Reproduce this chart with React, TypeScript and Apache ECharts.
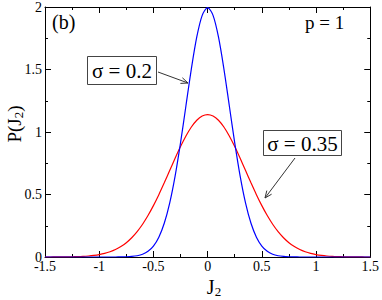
import React, { useEffect, useRef } from "react";
import * as echarts from "echarts";

const xs = [
  -1.5, -1.45, -1.4, -1.35, -1.3, -1.25, -1.2, -1.15, -1.1, -1.05, -1.0, -0.95,
  -0.9, -0.85, -0.8, -0.75, -0.7, -0.65, -0.6, -0.55, -0.5, -0.45, -0.4, -0.35,
  -0.3, -0.25, -0.2, -0.15, -0.1, -0.05, 0, 0.05, 0.1, 0.15, 0.2, 0.25, 0.3,
  0.35, 0.4, 0.45, 0.5, 0.55, 0.6, 0.65, 0.7, 0.75, 0.8, 0.85, 0.9, 0.95, 1.0,
  1.05, 1.1, 1.15, 1.2, 1.25, 1.3, 1.35, 1.4, 1.45, 1.5,
];

const blueVals = [
  0, 0, 0, 0, 0, 0, 0, 0, 0, 0, 0, 0,
  0.0001, 0.0002, 0.0007, 0.0018, 0.0044, 0.0101, 0.0222, 0.0455, 0.0876,
  0.1587, 0.27, 0.4314, 0.6476, 0.9132, 1.2099, 1.5057, 1.7603, 1.9333,
  1.9947,
  1.9333, 1.7603, 1.5057, 1.2099, 0.9132, 0.6476, 0.4314, 0.27, 0.1587,
  0.0876, 0.0455, 0.0222, 0.0101, 0.0044, 0.0018, 0.0007, 0.0002, 0.0001,
  0, 0, 0, 0, 0, 0, 0, 0, 0, 0, 0, 0,
];

const redVals = [
  0.0001, 0.0002, 0.0004, 0.0007, 0.0012, 0.0019, 0.0032, 0.0052, 0.0082,
  0.0127, 0.0192, 0.0286, 0.0418, 0.0597, 0.0836, 0.1147, 0.1543, 0.2032,
  0.2622, 0.3316, 0.4108, 0.4987, 0.5932, 0.6913, 0.7894, 0.8832, 0.9681,
  1.0398, 1.0942, 1.1282,
  1.1398,
  1.1282, 1.0942, 1.0398, 0.9681, 0.8832, 0.7894, 0.6913, 0.5932, 0.4987,
  0.4108, 0.3316, 0.2622, 0.2032, 0.1543, 0.1147, 0.0836, 0.0597, 0.0418,
  0.0286, 0.0192, 0.0127, 0.0082, 0.0052, 0.0032, 0.0019, 0.0012, 0.0007,
  0.0004, 0.0002, 0.0001,
];

const seriesNames = ["σ = 0.2", "σ = 0.35"];
const panelLabel = "(b)";
const paramLabel = "p = 1";

const FONT = "Liberation Serif";

export default function App() {
  const ref = useRef<HTMLDivElement>(null);
  useEffect(() => {
    if (!ref.current) return;
    const chart = echarts.init(ref.current, null, { renderer: "svg" });
    const axisCommon = {
      type: "value" as const,
      axisLine: { show: true, onZero: false, lineStyle: { color: "#000", width: 1 } },
      axisTick: { show: true, inside: true, length: 6, lineStyle: { color: "#000" } },
      minorTick: { show: true, splitNumber: 2, length: 3, lineStyle: { color: "#000" } },
      splitLine: { show: false },
      minorSplitLine: { show: false },
    };
    const labelStyle = { color: "#000", fontFamily: FONT, fontSize: 14 };
    chart.setOption({
      animation: false,
      grid: { left: 45, right: 10, top: 6, bottom: 43 },
      xAxis: [
        {
          ...axisCommon,
          min: -1.5,
          max: 1.5,
          interval: 0.5,
          position: "bottom",
          axisLabel: { ...labelStyle, margin: 2 },
        },
        {
          ...axisCommon,
          min: -1.5,
          max: 1.5,
          interval: 0.5,
          position: "top",
          axisLabel: { show: false },
        },
      ],
      yAxis: [
        {
          ...axisCommon,
          min: 0,
          max: 2,
          interval: 0.5,
          position: "left",
          axisLabel: { ...labelStyle, margin: 3 },
        },
        {
          ...axisCommon,
          min: 0,
          max: 2,
          interval: 0.5,
          position: "right",
          axisLabel: { show: false },
        },
      ],
      series: [
        {
          name: seriesNames[0],
          type: "line",
          data: xs.map((x, i) => [x, blueVals[i]]),
          smooth: 0.3,
          showSymbol: false,
          lineStyle: { color: "#0000ff", width: 1.2 },
          itemStyle: { color: "#0000ff" },
          z: 3,
        },
        {
          name: seriesNames[1],
          type: "line",
          data: xs.map((x, i) => [x, redVals[i]]),
          smooth: 0.3,
          showSymbol: false,
          lineStyle: { color: "#ff0000", width: 1.2 },
          itemStyle: { color: "#ff0000" },
          z: 2,
        },
      ],
      graphic: [
        {
          type: "text",
          left: 52,
          top: 12,
          style: { text: panelLabel, fontFamily: FONT, fontSize: 20, fill: "#000" },
        },
        {
          type: "text",
          left: 305,
          top: 13,
          style: { text: paramLabel, fontFamily: FONT, fontSize: 19, fill: "#000" },
        },
        {
          type: "text",
          x: 4,
          y: 124,
          rotation: Math.PI / 2,
          style: {
            text: "{a|P(J}{s|2}{a|)}",
            align: "center",
            verticalAlign: "top",
            fill: "#000",
            rich: {
              a: { fontFamily: FONT, fontSize: 19, fill: "#000" },
              s: { fontFamily: FONT, fontSize: 13, fill: "#000", padding: [8, 0, 0, 0] },
            },
          },
        },
        {
          type: "text",
          x: 214,
          y: 276,
          style: {
            text: "{a|J}{s|2}",
            align: "center",
            verticalAlign: "top",
            fill: "#000",
            rich: {
              a: { fontFamily: FONT, fontSize: 20, fill: "#000" },
              s: { fontFamily: FONT, fontSize: 13, fill: "#000", padding: [9, 0, 0, 0] },
            },
          },
        },
        {
          type: "rect",
          shape: { x: 87.5, y: 56.5, width: 69, height: 28 },
          style: { fill: "#fff", stroke: "#444", lineWidth: 1 },
        },
        {
          type: "text",
          x: 122,
          y: 71,
          style: {
            text: seriesNames[0],
            fontFamily: FONT,
            fontSize: 21,
            fill: "#000",
            align: "center",
            verticalAlign: "middle",
          },
        },
        {
          type: "rect",
          shape: { x: 263.5, y: 130.5, width: 78, height: 25 },
          style: { fill: "#fff", stroke: "#444", lineWidth: 1 },
        },
        {
          type: "text",
          x: 302.5,
          y: 143.5,
          style: {
            text: seriesNames[1],
            fontFamily: FONT,
            fontSize: 21,
            fill: "#000",
            align: "center",
            verticalAlign: "middle",
          },
        },
        {
          type: "line",
          shape: { x1: 158, y1: 72, x2: 188, y2: 83 },
          style: { stroke: "#333", lineWidth: 1 },
        },
        {
          type: "polyline",
          shape: { points: [[180.4, 83.4], [188, 83], [182.4, 77.8]] },
          style: { stroke: "#333", lineWidth: 1, fill: "none" },
        },
        {
          type: "line",
          shape: { x1: 295, y1: 158, x2: 265, y2: 198 },
          style: { stroke: "#333", lineWidth: 1 },
        },
        {
          type: "polyline",
          shape: { points: [[271.6, 194.2], [265, 198], [266.8, 190.6]] },
          style: { stroke: "#333", lineWidth: 1, fill: "none" },
        },
      ],
    });
    return () => chart.dispose();
  }, []);
  return <div ref={ref} style={{ width: 382, height: 300, position: "absolute", left: 0, top: 0 }} />;
}
